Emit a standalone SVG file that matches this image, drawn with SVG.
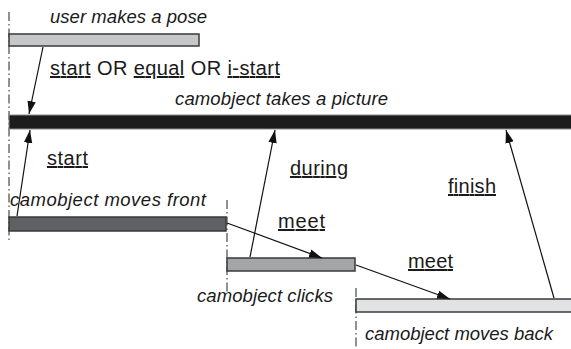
<svg xmlns="http://www.w3.org/2000/svg" width="571" height="349" viewBox="0 0 571 349">
<style>
.bar{stroke:#3a3a3a;stroke-width:1.5}
.guide{stroke:#222;stroke-width:1;stroke-dasharray:9,3,1.5,3;fill:none}
.it{font-family:"Liberation Sans",Arial,sans-serif;font-style:italic;font-size:18.5px;fill:#1a1a1a}
.lb{font-family:"Liberation Sans",Arial,sans-serif;font-size:20px;fill:#1a1a1a}
.u{text-decoration:underline}
.conn{stroke:#111;stroke-width:1.2;fill:none;marker-end:url(#ah)}
</style>
<defs>
<marker id="ah" markerWidth="14" markerHeight="10" refX="13" refY="5" orient="auto" markerUnits="userSpaceOnUse">
<path d="M0,0.8 L13,5 L0,9.2 Z" fill="#111"/>
</marker>
</defs>
<g id="guides">
<line class="guide" x1="9" y1="12" x2="9" y2="240"/>
<line class="guide" x1="227" y1="200" x2="227" y2="292"/>
<line class="guide" x1="356" y1="288" x2="356" y2="349"/>
</g>
<g id="pose">
<rect class="bar" x="9" y="34" width="190" height="12" fill="#c6c7c9"/>
<text class="it" x="50" y="23" textLength="157" lengthAdjust="spacing">user makes a pose</text>
</g>
<g id="picture">
<rect x="9" y="115" width="564" height="14" fill="#1c1c1c" stroke="#8a8a8a" stroke-width="1"/>
<text class="it" x="175" y="105" textLength="213" lengthAdjust="spacing">camobject takes a picture</text>
</g>
<g id="front">
<rect class="bar" x="9" y="217" width="217" height="14" fill="#5e6063"/>
<text class="it" x="10" y="206" textLength="196" lengthAdjust="spacing">camobject moves front</text>
</g>
<g id="clicks">
<rect class="bar" x="227" y="258" width="128" height="13" fill="#a3a5a7"/>
<text class="it" x="197" y="302" textLength="136" lengthAdjust="spacing">camobject clicks</text>
</g>
<g id="back">
<rect class="bar" x="356" y="299" width="217" height="13" fill="#e1e2e3"/>
<text class="it" x="365" y="340" textLength="188" lengthAdjust="spacing">camobject moves back</text>
</g>
<g id="connectors">
<line class="conn" x1="43" y1="47" x2="29" y2="114"/>
<line class="conn" x1="17" y1="216" x2="30" y2="130"/>
<line class="conn" x1="250" y1="257" x2="275" y2="130"/>
<line class="conn" x1="554" y1="298" x2="506" y2="130"/>
<line class="conn" x1="227" y1="223" x2="322" y2="258"/>
<line class="conn" x1="356" y1="265" x2="450" y2="299"/>
<text class="lb" x="50" y="75" textLength="230" lengthAdjust="spacing"><tspan class="u">start</tspan> OR <tspan class="u">equal</tspan> OR <tspan class="u">i-start</tspan></text>
<text class="lb u" x="47" y="165" textLength="41" lengthAdjust="spacing">start</text>
<text class="lb u" x="290" y="175" textLength="58" lengthAdjust="spacing">during</text>
<text class="lb u" x="448" y="193" textLength="48" lengthAdjust="spacing">finish</text>
<text class="lb u" x="278" y="228" textLength="47" lengthAdjust="spacing">meet</text>
<text class="lb u" x="408" y="268" textLength="45" lengthAdjust="spacing">meet</text>
</g>
</svg>
